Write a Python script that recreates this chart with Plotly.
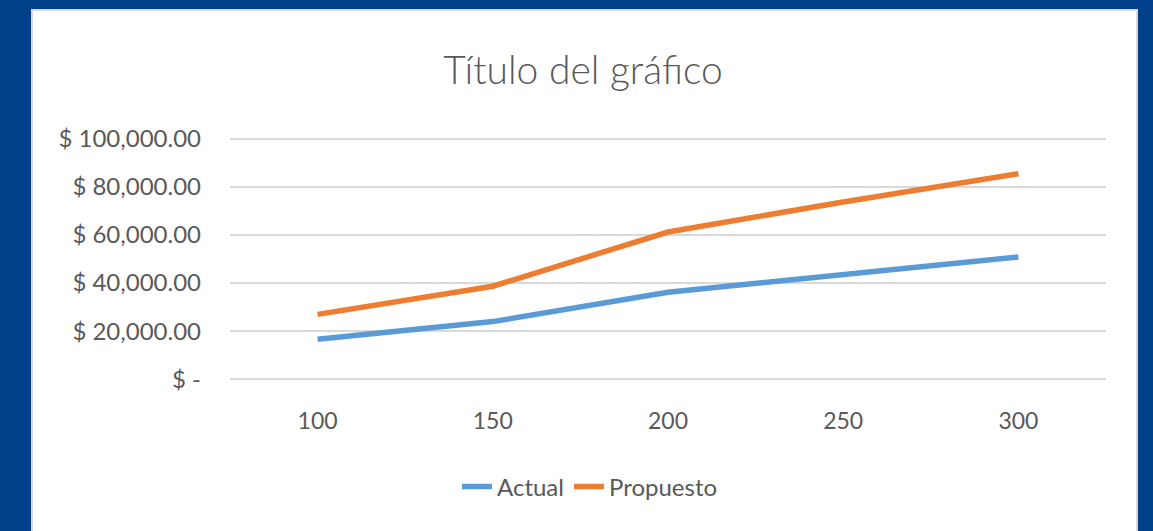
import plotly.graph_objects as go

categories = ["100", "150", "200", "250", "300"]
actual = [16700, 24000, 36200, 43700, 50800]
propuesto = [27000, 38700, 61200, 73700, 85400]
y_tick_vals = [0, 20000, 40000, 60000, 80000, 100000]
y_tick_text = ["$ -", "$ 20,000.00", "$ 40,000.00", "$ 60,000.00", "$ 80,000.00", "$ 100,000.00"]

FONT = "Lato"
GRAY = "#595959"

fig = go.Figure()
fig.add_trace(go.Scatter(x=categories, y=actual, mode="lines", name="Actual",
                         line=dict(color="#5B9BD5", width=5.5)))
fig.add_trace(go.Scatter(x=categories, y=propuesto, mode="lines", name="Propuesto",
                         line=dict(color="#ED7D31", width=5.5)))

W, H = 1153, 531
PAD = 1500
Y0_PX, Y100_PX = 379, 139
pxu = (Y0_PX - Y100_PX) / 100000
L, R = 230, 47
T = round(Y100_PX - PAD * pxu)
B = round(H - Y0_PX - PAD * pxu)
pw = W - L - R
ph = H - T - B

def px_x(x):
    return (x - L) / pw

def px_y(y):
    return (H - B - y) / ph

fig.add_shape(type="rect", xref="paper", yref="paper",
              x0=px_x(32), x1=px_x(1137), y0=px_y(560), y1=px_y(10),
              fillcolor="white", line=dict(color="#D9D9D9", width=2), layer="below")

fig.update_layout(
    width=W, height=H,
    margin=dict(l=L, r=R, t=T, b=B),
    paper_bgcolor="#003F8A",
    plot_bgcolor="white",
    font=dict(family=FONT, color=GRAY, size=22),
    title=dict(text="Título del gráfico", x=583 / W, xref="container", xanchor="center",
               y=1 - 70 / H, yref="container", yanchor="middle",
               font=dict(family=FONT, size=39, color=GRAY, weight=300)),
    showlegend=True,
    legend=dict(orientation="h", x=px_x(590), xanchor="center", y=px_y(487), yanchor="middle",
                font=dict(size=24, color=GRAY), bgcolor="rgba(0,0,0,0)"),
    xaxis=dict(type="category", range=[-0.5, 4.5], showgrid=False, showline=False,
               ticks="", ticklabelstandoff=22, tickfont=dict(size=23, color=GRAY), zeroline=False),
    yaxis=dict(range=[-PAD, 100000 + PAD], tickvals=y_tick_vals, ticktext=y_tick_text,
               showgrid=True, gridcolor="#D9D9D9", gridwidth=1.5, zeroline=False, showline=False,
               ticks="", ticklabelstandoff=28, tickfont=dict(size=24, color=GRAY)),
)

fig.write_html("out.html", config={"displayModeBar": False},
               post_script="document.body.style.margin='0';document.body.style.overflow='hidden';")
